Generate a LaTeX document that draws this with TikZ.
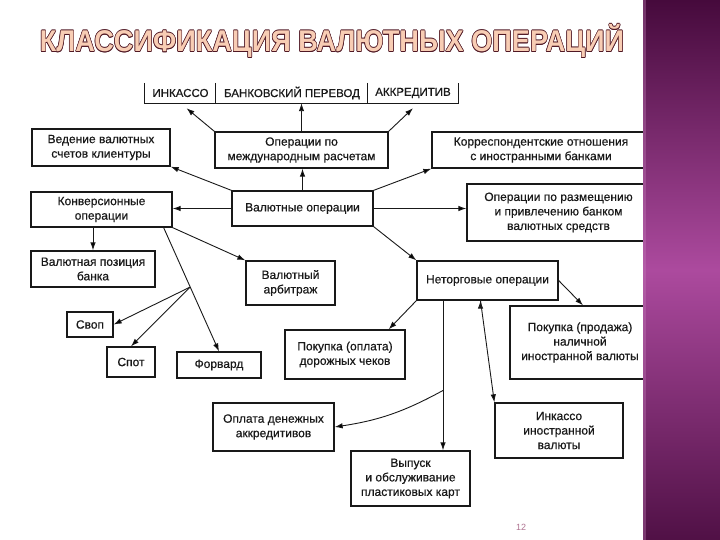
\documentclass[tikz,border=0pt]{standalone}
\usepackage{fontspec}
\setmainfont{Liberation Sans}
\newfontfamily\boxfont[FakeBold=0.5]{Liberation Sans}
\usepackage{tikz}
\usetikzlibrary{arrows.meta,positioning,calc}
\definecolor{barDark}{RGB}{70,10,60}
\definecolor{barLight}{RGB}{172,74,158}
\definecolor{titleFill}{RGB}{248,205,180}
\definecolor{titleLine}{RGB}{80,24,36}
\definecolor{pageNum}{RGB}{175,115,145}
\definecolor{ink}{RGB}{25,25,25}
\tikzstyle{block}=[draw=ink, text=ink, line width=1.3pt, align=center, inner sep=0pt, font=\boxfont\fontsize{12}{14.5}\selectfont]
\tikzstyle{cell}=[text=ink, inner sep=0pt, font=\boxfont\fontsize{11.5}{14.5}\selectfont]
\tikzstyle{link}=[draw=ink, line width=0.9pt, ->]
\tikzstyle{headline}=[font=\fontsize{30}{30}\bfseries, xscale=0.905, inner sep=0pt]
\newcommand{\slidetitle}{КЛАССИФИКАЦИЯ ВАЛЮТНЫХ ОПЕРАЦИЙ}
\begin{document}
\begin{tikzpicture}[x=1pt,y=-1pt,>={Latex[length=8pt,width=5.5pt]}]
    \useasboundingbox (0,0) rectangle (720,540);
    \fill[white] (0,0) rectangle (720,540);

    % title with outlined letters
    \foreach \dx/\dy [count=\k] in {-0.6/0,0.6/0,0/-0.6,0/0.6,-0.45/-0.45,0.45/0.45,-0.45/0.45,0.45/-0.45}
        \node[headline, text=titleLine] (shadow\k) at (332+\dx,41+\dy) {\slidetitle};
    \node[headline, text=titleFill] (title) at (332,41) {\slidetitle};

    % top row
    \node[cell, minimum width=71pt, minimum height=20pt] (inkasso) at (180.5,93) {ИНКАССО};
    \node[cell, minimum width=152pt, minimum height=20pt] (perevod) at (292,93) {БАНКОВСКИЙ ПЕРЕВОД};
    \node[cell, minimum width=90pt, minimum height=20pt] (akkred) at (413,93) {АККРЕДИТИВ};
    \draw[ink, line width=1.3pt] (inkasso.north west) |- (akkred.south east) -- (akkred.north east);
    \draw[ink, line width=1.3pt] (perevod.north west) -- (perevod.south west);
    \draw[ink, line width=1.3pt] (akkred.north west) -- (akkred.south west);

    % boxes
    \node[block, minimum width=138pt, minimum height=37pt] (accounts) at (101,147.5) {Ведение валютных\\счетов клиентуры};
    \node[block, minimum width=173pt, minimum height=36pt] (intl) at (301.5,150) {Операции по\\международным расчетам};
    \node[block, minimum width=218pt, minimum height=36pt] (corr) at (541,150) {Корреспондентские отношения\\с иностранными банками};
    \node[block, minimum width=141pt, minimum height=35pt] (conv) at (101.5,209.5) {Конверсионные\\операции};
    \node[block, minimum width=141pt, minimum height=35pt] (ops) at (302.5,208.5) {Валютные операции};
    \node[block, minimum width=183pt, minimum height=57pt] (place) at (558.5,212.5) {Операции по размещению\\и привлечению банком\\валютных средств};
    \node[block, minimum width=124pt, minimum height=36pt] (position) at (93,269) {Валютная позиция\\банка};
    \node[block, minimum width=89pt, minimum height=44pt] (arb) at (290.5,283) {Валютный\\арбитраж};
    \node[block, minimum width=141pt, minimum height=39pt] (nontrade) at (487.5,280.5) {Неторговые операции};
    \node[block, minimum width=46pt, minimum height=25pt] (swap) at (90,324.5) {Своп};
    \node[block, minimum width=48pt, minimum height=30pt] (spot) at (131,362) {Спот};
    \node[block, minimum width=84pt, minimum height=26pt] (fwd) at (219,365) {Форвард};
    \node[block, minimum width=120pt, minimum height=49pt] (cheques) at (345,354.5) {Покупка (оплата)\\дорожных чеков};
    \node[block, minimum width=140pt, minimum height=73pt] (cash) at (580,342.5) {Покупка (продажа)\\наличной\\иностранной валюты};
    \node[block, minimum width=121pt, minimum height=48pt] (lc) at (273.5,427) {Оплата денежных\\аккредитивов};
    \node[block, minimum width=119pt, minimum height=55pt] (cards) at (410.5,478.5) {Выпуск\\и обслуживание\\пластиковых карт};
    \node[block, minimum width=128pt, minimum height=55pt] (collect) at (559,430.5) {Инкассо\\иностранной\\валюты};

    \coordinate (fwdstart) at ([xshift=-9pt]conv.south east);
    \coordinate (split) at ($(fwdstart)!0.48!(fwd.north)$);
    \coordinate (nts) at ([xshift=-44.5pt]nontrade.south);
    \coordinate (ntbranch) at ($(nts)!0.6!(nts |- cards.north)$);

    \path[link]
        (intl.north west) edge ([xshift=6pt,yshift=-5pt]inkasso.south)
        (intl.north) edge (intl.north |- perevod.south)
        (intl.north east) edge ([yshift=-5pt]akkred.south)
        (ops.north) edge (ops.north |- intl.south)
        (ops.north west) edge (accounts.south east)
        (ops.west) edge (ops.west -| conv.east)
        (ops.north east) edge (corr.south west)
        (ops.east) edge (ops.east -| place.west)
        (ops.south east) edge (nontrade.north west)
        (position.north |- conv.south) edge (position.north)
        (conv.south east) edge (arb.north west)
        (fwdstart) edge (fwd.north)
        (split) edge (swap.east)
        (split) edge (spot.north)
        (nontrade.south west) edge ($(cheques.north)!0.72!(cheques.north east)$)
        (nontrade.east) edge ([xshift=3pt]cash.north)
        (nts) edge (nts |- cards.north)
        (ntbranch) edge[bend left=10] (lc.east)
        ([xshift=-7pt]nontrade.south) edge (collect.north west);

    % side bar
    \shade[top color=barDark, bottom color=barDark!90!barLight, middle color=barLight] (643,0) rectangle (720,540);
    \fill[barLight!70!white, opacity=0.35] (643,0) rectangle (646,540);

    \node[text=pageNum, font=\fontsize{9}{9}\selectfont] (pagenum) at (521,527) {12};
\end{tikzpicture}
\end{document}
